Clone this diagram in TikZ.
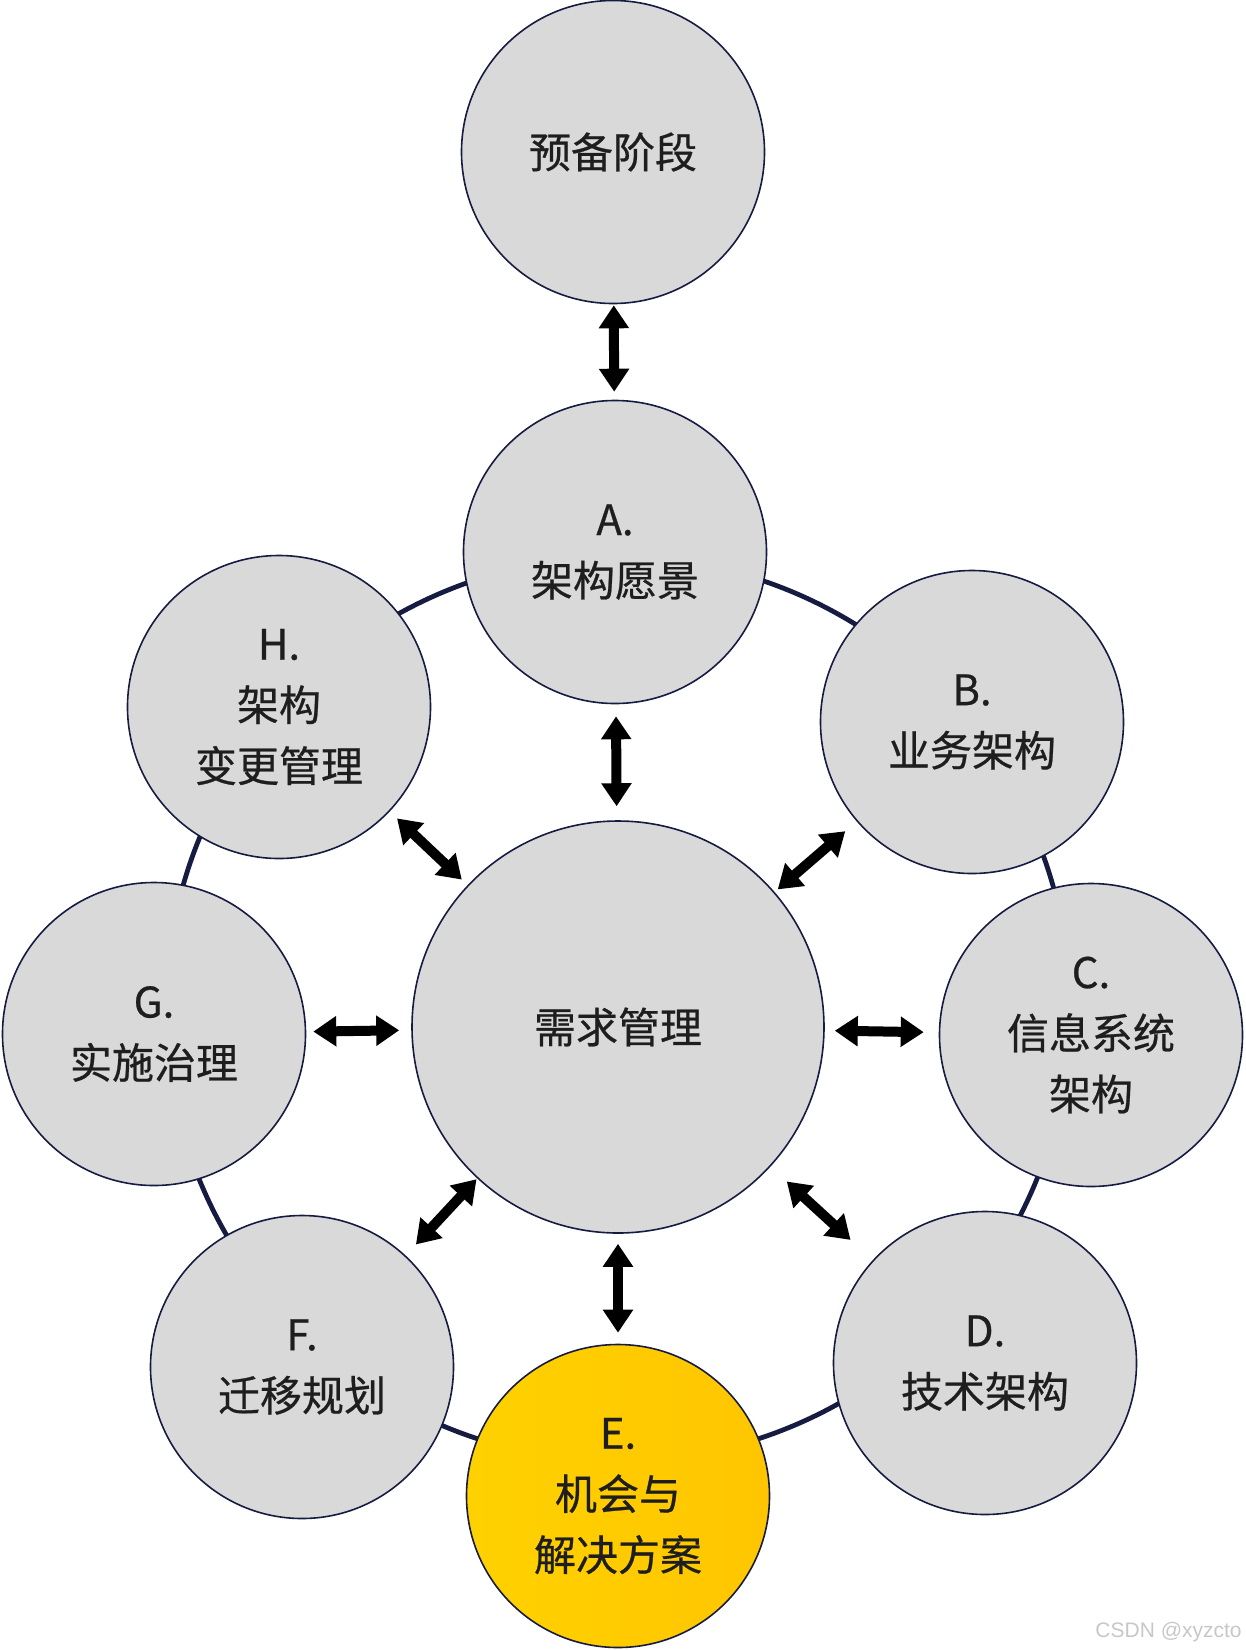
\documentclass[tikz,border=0pt]{standalone}
\usepackage{fontspec}
\setmainfont{Noto Sans CJK SC}[FakeBold=0.6]
\newfontfamily\markfont{Liberation Sans}
\definecolor{phasegray}{RGB}{217,217,217}
\definecolor{phaseline}{RGB}{22,27,66}
\definecolor{phasetext}{RGB}{30,30,30}
\definecolor{phasegold}{RGB}{255,204,0}
\usetikzlibrary{arrows.meta}

\begin{document}
\begin{tikzpicture}[x=0.5pt, y=-0.5pt,
    phase/.style={circle, draw=phaseline, line width=0.8pt, fill=phasegray,
      minimum size=151.5pt, inner sep=0pt, align=center, text=phasetext,
      font=\fontsize{21}{30.5}\selectfont},
    hub/.style={phase, minimum size=206pt},
    ring/.style={draw=phaseline, line width=2.4pt},
    biarrow/.style={line width=5pt, <->, >={Triangle[width=14.5pt,length=11.5pt]}}]
    \useasboundingbox (0,0) rectangle (1246,1650);
    % cycle ring behind the phases
    \coordinate (ringc) at (618,1009);
    \draw[ring] (ringc) circle[radius=226pt];
    % phases
    \node[phase] (prelim) at (613,152) {预备阶段};
    \node[hub] (mid) at (618,1027) {需求管理};
    \node[phase] (A) at (615,552) {A.\\架构愿景};
    \node[phase] (B) at (972,722) {B.\\业务架构};
    \node[phase] (C) at (1091,1035) {C.\\信息系统\\架构};
    \node[phase] (D) at (985,1363) {D.\\技术架构};
    \node[phase, fill=none, left color=phasegold!90!yellow, right color=phasegold!92!orange]
      (E) at (618,1496) {E.\\机会与\\解决方案};
    \node[phase] (F) at (302,1367) {F.\\迁移规划};
    \node[phase] (G) at (154,1034) {G.\\实施治理};
    \node[phase] (H) at (279,707) {H.\\架构\\变更管理};
    % links to requirements management
    \draw[biarrow, shorten <=0.5pt, shorten >=4pt] (prelim) -- (A);
    \draw[biarrow, shorten <=7pt, shorten >=6pt] (mid) -- (A);
    \draw[biarrow, shorten <=2pt, shorten >=7.5pt] (mid) -- (B);
    \draw[biarrow, shorten <=5pt, shorten >=7.5pt] (mid) -- (C);
    \draw[biarrow, shorten <=11pt, shorten >=15pt] (mid) -- (D);
    \draw[biarrow, shorten <=5pt, shorten >=5.5pt] (mid) -- (E);
    \draw[biarrow, shorten <=0.5pt, shorten >=7.5pt] (mid) -- (F);
    \draw[biarrow, shorten <=6pt, shorten >=3.5pt] (mid) -- (G);
    \draw[biarrow, shorten <=4pt, shorten >=5pt] (mid) -- (H);
    % watermark
    \node[anchor=base east, text=black!22, font=\markfont\fontsize{10.5}{12}\selectfont, inner sep=0pt]
      (mark) at (1242,1637) {CSDN @xyzcto};
\end{tikzpicture}
\end{document}
